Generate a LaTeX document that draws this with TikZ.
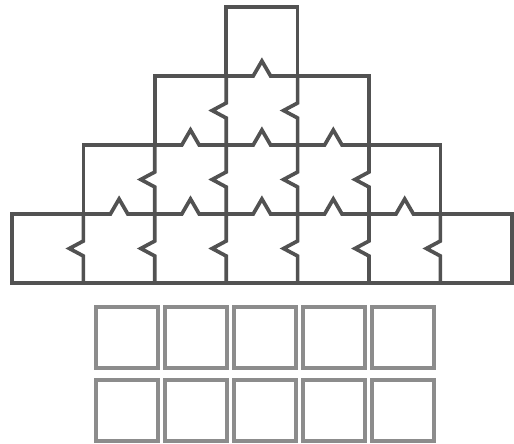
\documentclass[tikz,border=0pt]{standalone}
\begin{document}
\begin{tikzpicture}[x=0.02cm, y=-0.02cm]
    \tikzset{
        pyr/.style={draw=black!68, line width=2.1pt, line cap=rect},
        tile/.style={draw=black!45, line width=2pt}
    }
    \useasboundingbox (0,0) rectangle (514,443);
    \def\w{71.4}
    \def\h{69}

    % Pyramid of notched cells
    \foreach \r in {0,...,3}{
        \pgfmathtruncatemacro{\cmin}{3-\r}
        \pgfmathtruncatemacro{\cmax}{3+\r}
        \foreach \c in {\cmin,...,\cmax}{
            \pgfmathsetmacro{\xa}{12+\c*\w}
            \pgfmathsetmacro{\ya}{7+\r*\h}
            \pgfmathtruncatemacro{\above}{abs(\c-3)<\r}
            % top edge
            \ifnum\above=1
                \draw[pyr] (\xa,\ya) -- ++(27,0) -- ++(8.7,-15) -- ++(8.7,15) -- ++(27,0);
            \else
                \draw[pyr] (\xa,\ya) -- ++(\w,0);
            \fi
            % left edge
            \ifnum\c>\cmin
                \draw[pyr] (\xa,\ya) -- ++(0,27) -- ++(-14,7.5) -- ++(14,7.5) -- ++(0,27);
            \else
                \draw[pyr] (\xa,\ya) -- ++(0,\h);
            \fi
            % right edge of the row
            \ifnum\c=\cmax
                \draw[pyr] (\xa+\w,\ya) -- ++(0,\h);
            \fi
        }
    }
    \draw[pyr] (12,283) -- (511.8,283);

    % Loose tiles
    \foreach \i in {0,...,4}
        \foreach \j in {0,1}
            \draw[tile] (96+\i*69,307+\j*73) rectangle ++(62,61);
\end{tikzpicture}
\end{document}
